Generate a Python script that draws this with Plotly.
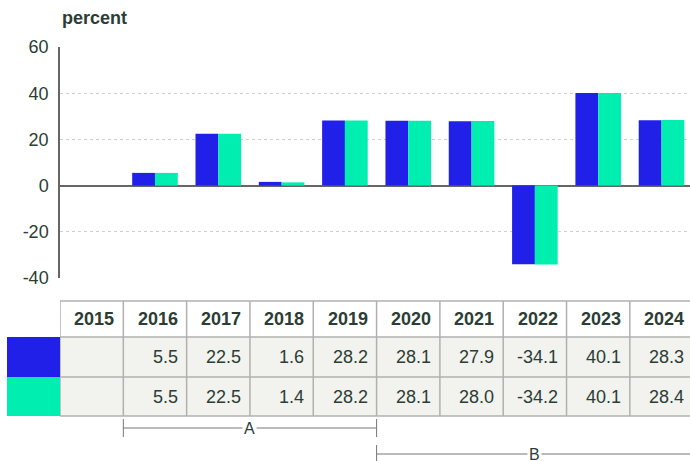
import plotly.graph_objects as go

years = ["2015", "2016", "2017", "2018", "2019", "2020", "2021", "2022", "2023", "2024"]
series_a = [None, 5.5, 22.5, 1.6, 28.2, 28.1, 27.9, -34.1, 40.1, 28.3]
series_b = [None, 5.5, 22.5, 1.4, 28.2, 28.1, 28.0, -34.2, 40.1, 28.4]
y_ticks = [-40, -20, 0, 20, 40, 60]
y_tick_text = ["-40", "-20", "0", "20", "40", "60"]
group_labels = ["A", "B"]
group_spans = [(1, 4), (5, 9)]  # index ranges of years

BLUE = "#2020e8"
GREEN = "#00efb0"
TXT = "#2b3d35"
FONT = "Liberation Sans, Arial, sans-serif"

W, H = 690, 461
ML, MR, MT, MB = 60, 0, 47, 183
PH = H - MT - MB
PW = W - ML - MR
X_MAX = 9.45
COL_PX = PW / (X_MAX + 0.5)


def py(pix):  # pixel y -> paper y
    return (H - MB - pix) / PH


def px(pix):  # pixel x -> paper x
    return (pix - ML) / PW


fig = go.Figure()
fig.add_bar(x=list(range(len(years))), y=series_a, marker_color=BLUE, marker_line_width=0, showlegend=False)
fig.add_bar(x=list(range(len(years))), y=series_b, marker_color=GREEN, marker_line_width=0, showlegend=False)

shapes = []
ann = []

# table geometry (pixels)
y_top, y_h, y_r1, y_r2 = 301, 337, 377, 416
BORDER = "#b0b0b0"
shapes.append(dict(type="rect", xref="x", yref="paper", x0=-0.5, x1=X_MAX, y0=py(y_r2), y1=py(y_h),
                   fillcolor="#f2f2ee", line_width=0, layer="below"))
shapes.append(dict(type="rect", xref="paper", yref="paper", x0=px(7), x1=px(60), y0=py(y_r1), y1=py(y_h),
                   fillcolor=BLUE, line_width=0))
shapes.append(dict(type="rect", xref="paper", yref="paper", x0=px(7), x1=px(60), y0=py(y_r2), y1=py(y_r1),
                   fillcolor=GREEN, line_width=0))
for yy in (y_top, y_h, y_r1, y_r2):
    shapes.append(dict(type="line", xref="x", yref="paper", x0=-0.5, x1=X_MAX, y0=py(yy), y1=py(yy),
                       line=dict(color=BORDER, width=1.5)))
for i in range(len(years)):
    shapes.append(dict(type="line", xref="x", yref="paper", x0=i - 0.5, x1=i - 0.5, y0=py(y_r2), y1=py(y_top),
                       line=dict(color=BORDER, width=1.5)))


def cell_anchor(i):
    right = i + 0.5
    anchor = min(right, X_MAX)
    return anchor, -7 + (right - anchor) * COL_PX


for i, yr in enumerate(years):
    ax, sh = cell_anchor(i)
    ann.append(dict(x=ax, y=py((y_top + y_h) / 2), xref="x", yref="paper", text="<b>%s</b>" % yr,
                    showarrow=False, xanchor="right", yanchor="middle", xshift=sh,
                    font=dict(size=18, color=TXT, family=FONT)))
    for vals, (a, b) in [(series_a, (y_h, y_r1)), (series_b, (y_r1, y_r2))]:
        v = vals[i]
        if v is None:
            continue
        ann.append(dict(x=ax, y=py((a + b) / 2), xref="x", yref="paper", text="%.1f" % v,
                        showarrow=False, xanchor="right", yanchor="middle", xshift=sh,
                        font=dict(size=18, color=TXT, family=FONT)))

LINEC = "#777777"
for (lab, (s, e)), yy in zip(zip(group_labels, group_spans), [428, 454]):
    x0, x1 = s - 0.5, e + 0.5
    shapes.append(dict(type="line", xref="x", yref="paper", x0=x0, x1=min(x1, X_MAX), y0=py(yy), y1=py(yy),
                       line=dict(color=LINEC, width=1)))
    for xx in (x0, x1):
        if xx > X_MAX:
            continue
        shapes.append(dict(type="line", xref="x", yref="paper", x0=xx, x1=xx, y0=py(yy - 9), y1=py(min(yy + 9, 461)),
                           line=dict(color=LINEC, width=1)))
    ann.append(dict(x=(x0 + x1) / 2, y=py(yy), xref="x", yref="paper", text=lab, showarrow=False,
                    xanchor="center", yanchor="middle", bgcolor="white", borderpad=1,
                    font=dict(size=16, color=TXT, family=FONT)))

ann.append(dict(x=0, y=1, xref="paper", yref="paper", text="<b>percent</b>", showarrow=False,
                xanchor="left", yanchor="bottom", yshift=17, xshift=0,
                font=dict(size=18, color=TXT, family=FONT)))

fig.update_layout(
    width=W, height=H,
    margin=dict(l=ML, r=MR, t=MT, b=MB),
    plot_bgcolor="white", paper_bgcolor="white",
    barmode="group", bargap=0.28, bargroupgap=0,
    shapes=shapes, annotations=ann,
    font=dict(family=FONT, color=TXT, size=18),
    xaxis=dict(range=[-0.5, X_MAX], showticklabels=False, showgrid=False, zeroline=False, showline=False,
               fixedrange=True),
    yaxis=dict(range=[-40, 60], tickvals=y_ticks, ticktext=y_tick_text, showgrid=True, gridcolor="#cfcfcf",
               griddash="dot", gridwidth=1, zeroline=True, zerolinecolor="#666666", zerolinewidth=1.5,
               showline=True, linecolor="#666666", linewidth=1.5, ticks="", ticklabelstandoff=6,
               tickfont=dict(size=18, color=TXT, family=FONT)),
)

fig.write_html("out.html", config={"displayModeBar": False},
               post_script="document.body.style.margin='0';")
